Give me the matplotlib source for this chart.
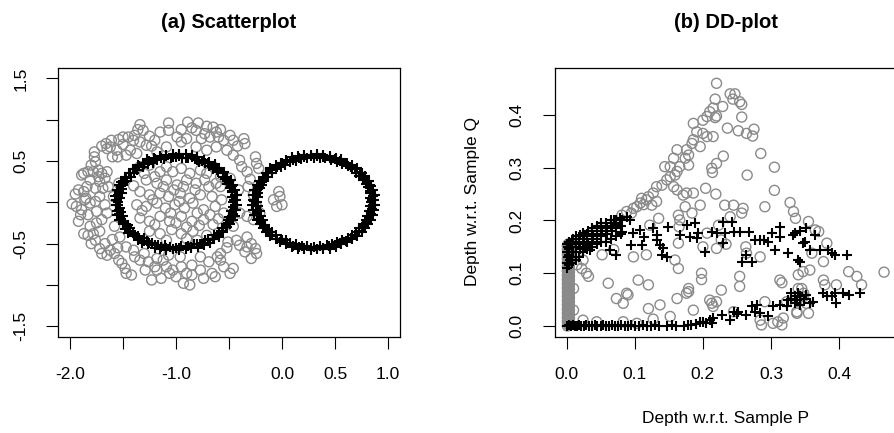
import numpy as np
import matplotlib.pyplot as plt

plt.rcParams['font.family'] = ['Liberation Sans', 'DejaVu Sans']

GREY = '#8a8a8a'

# ---- (a) scatterplot: sample P (grey circles) ----
scatter_p = [
    (-1.34, 0.94), (-1.36, 0.88), (-1.31, 0.87), (-1.07, 0.96), (-1.07, 0.87), (-0.95, 0.88),
    (-0.89, 0.97), (-0.85, 0.90), (-0.79, 0.96), (-0.81, 0.87), (-0.71, 0.92), (-0.73, 0.83),
    (-0.65, 0.91), (-0.62, 0.85), (-0.58, 0.88), (-0.60, 0.79), (-0.68, 0.79), (-0.76, 0.77),
    (-0.49, 0.81), (-0.46, 0.75), (-0.36, 0.77), (-0.35, 0.71), (-0.90, 0.77), (-0.99, 0.79),
    (-0.95, 0.73), (-1.45, 0.79), (-1.50, 0.79), (-1.54, 0.76), (-1.40, 0.75), (-1.39, 0.81),
    (-1.61, 0.75), (-1.66, 0.71), (-1.70, 0.68), (-1.62, 0.67), (-1.65, 0.65), (-1.20, 0.75),
    (-1.28, 0.69), (-1.34, 0.73), (-1.23, 0.68),
    (-1.77, 0.61), (-1.77, 0.55), (-1.76, 0.49), (-1.56, 0.63), (-1.55, 0.55), (-1.43, 0.63),
    (-1.37, 0.59), (-1.47, 0.57), (-1.87, 0.35), (-1.89, 0.33), (-1.83, 0.37), (-1.78, 0.37),
    (-1.73, 0.39), (-1.70, 0.35), (-1.65, 0.37), (-1.73, 0.31), (-1.81, 0.27), (-1.72, 0.25),
    (-1.67, 0.29), (-1.84, 0.19), (-1.92, 0.15), (-1.87, 0.13), (-1.76, 0.17), (-1.69, 0.17),
    (-1.64, 0.19),
    (-1.98, -0.02), (-1.94, -0.05), (-1.89, -0.09), (-1.92, -0.23), (-1.86, 0.03), (-1.81, -0.01),
    (-1.76, 0.01), (-1.72, 0.07), (-1.75, -0.11), (-1.83, -0.15), (-1.70, -0.21), (-1.75, -0.25),
    (-1.65, -0.13), (-1.67, -0.03),
    (-1.87, -0.38), (-1.83, -0.40), (-1.78, -0.38), (-1.81, -0.29), (-1.72, -0.35), (-1.76, -0.46),
    (-1.72, -0.56), (-1.70, -0.62), (-1.65, -0.64), (-1.62, -0.58), (-1.67, -0.50), (-1.58, -0.62),
    (-1.54, -0.70), (-1.51, -0.74), (-1.48, -0.80), (-1.42, -0.88), (-1.47, -0.86), (-1.40, -0.58),
    (-1.39, -0.66), (-1.34, -0.70), (-1.29, -0.82),
    (-1.23, -0.94), (-1.14, -0.92), (-1.18, -0.82), (-1.09, -0.78), (-1.06, -0.86), (-1.00, -0.90),
    (-1.03, -0.82), (-0.93, -0.98), (-0.87, -1.00), (-0.90, -0.86), (-0.95, -0.78), (-0.85, -0.76),
    (-0.77, -0.82), (-0.74, -0.92), (-0.66, -0.86), (-0.63, -0.90), (-0.69, -0.72), (-0.61, -0.66),
    (-0.58, -0.70), (-0.49, -0.86), (-0.46, -0.80), (-1.18, -0.68), (-1.12, -0.70), (-1.07, -0.64),
    (-0.96, -0.66), (-0.77, -0.66), (-1.26, -0.72),
    (-0.43, -0.46), (-0.33, -0.42), (-0.29, -0.50), (-0.25, -0.56), (-0.24, -0.62), (-0.29, -0.68),
    (-0.33, -0.54), (-0.40, -0.52), (-0.51, -0.48), (-0.58, -0.62),
    (-0.32, 0.19), (-0.27, 0.09), (-0.24, -0.05), (-0.21, -0.13), (-0.27, -0.21), (-0.33, -0.17),
    (-0.38, 0.43), (-0.33, 0.37), (-0.25, 0.55), (-0.24, 0.47), (-0.22, 0.41), (-0.46, 0.57),
    (-0.40, 0.51),
    (-0.03, 0.13), (-0.02, 0.07), (-0.08, 0.03), (0.00, -0.03), (-0.05, -0.05),
    (-1.34, 0.43), (-1.25, 0.45), (-1.15, 0.37), (-1.09, 0.43), (-1.03, 0.37), (-0.95, 0.41),
    (-0.87, 0.35), (-0.77, 0.39), (-0.71, 0.35), (-0.65, 0.43), (-0.58, 0.31), (-1.28, 0.27),
    (-1.18, 0.23), (-1.09, 0.27), (-0.99, 0.21), (-0.90, 0.27), (-0.81, 0.23), (-0.69, 0.19),
    (-0.58, 0.19), (-1.34, 0.13), (-1.25, 0.09), (-1.15, 0.11), (-1.07, 0.07), (-0.96, 0.11),
    (-0.87, 0.05), (-0.77, 0.09), (-0.66, 0.07), (-0.57, 0.03), (-1.37, -0.03), (-1.28, -0.05),
    (-1.18, -0.01), (-1.10, -0.07), (-1.01, -0.03), (-0.92, -0.07), (-0.84, -0.01), (-0.74, -0.09),
    (-0.63, -0.05), (-0.55, -0.13), (-1.34, -0.19), (-1.25, -0.23), (-1.15, -0.17), (-1.06, -0.23),
    (-0.95, -0.17), (-0.85, -0.23), (-0.74, -0.21), (-0.65, -0.27), (-1.25, -0.35), (-1.15, -0.38),
    (-1.04, -0.33), (-0.95, -0.38), (-0.84, -0.35), (-0.71, -0.40), (-0.90, -0.44), (-1.09, -0.46),
    (-0.80, -0.46),
    (-1.18, 0.61), (-1.09, 0.67), (-0.81, 0.67), (-0.71, 0.63), (-0.62, 0.67), (-0.52, 0.63),
    (-1.59, 0.07), (-1.54, 0.23), (-1.58, -0.29), (-1.53, -0.42), (-1.47, -0.54), (-0.46, -0.29),
    (-0.40, -0.13), (-0.41, 0.15), (-0.49, 0.29),
    (-1.30, 0.35), (-1.20, 0.31), (-1.12, 0.19), (-1.02, 0.15), (-0.93, 0.19), (-0.82, 0.15),
    (-0.73, 0.27), (-0.62, 0.23), (-1.22, 0.03), (-1.05, -0.13), (-0.97, 0.01), (-0.80, -0.13),
    (-0.68, -0.15), (-1.20, -0.27), (-1.00, -0.25), (-0.90, -0.30), (-0.78, -0.28), (-1.32, -0.10),
    (-1.40, 0.20), (-0.60, -0.20), (-1.80, 0.45), (-1.85, 0.05), (-1.60, -0.45), (-1.55, -0.55),
    (-1.30, -0.62), (-1.20, -0.78), (-0.85, -0.88), (-0.55, -0.78), (-0.52, -0.55), (-0.35, -0.60),
    (-0.55, 0.75), (-0.42, 0.68), (-1.15, 0.85), (-1.25, 0.80), (-1.50, 0.70), (-1.60, 0.55),
    (-1.95, 0.10), (-1.90, -0.15), (-1.80, -0.50), (-0.30, 0.28),
]

# ---- (a) scatterplot: sample Q, two rings (black pluses) ----
ring1_x = [
    -0.46, -0.47, -0.47, -0.49, -0.52, -0.54, -0.56, -0.60, -0.65, -0.69, -0.73, -0.78, -0.82, -0.89, -0.94,
    -1.00, -1.05, -1.11, -1.18, -1.22, -1.26, -1.31, -1.37, -1.40, -1.42, -1.46, -1.50, -1.51, -1.51, -1.53,
    -1.55, -1.53, -1.52, -1.50, -1.49, -1.45, -1.43, -1.41, -1.36, -1.30, -1.27, -1.23, -1.17, -1.10, -1.06,
    -1.00, -0.95, -0.89, -0.83, -0.77, -0.73, -0.70, -0.64, -0.59, -0.57, -0.53, -0.51, -0.50, -0.48, -0.46,
    -0.43, -0.42, -0.44, -0.46, -0.48, -0.52, -0.55, -0.59, -0.63, -0.69, -0.74, -0.80, -0.85, -0.91, -0.97,
    -1.03, -1.09, -1.15, -1.21, -1.27, -1.31, -1.36, -1.41, -1.44, -1.48, -1.52, -1.54, -1.56, -1.58, -1.57,
    -1.57, -1.56, -1.56, -1.54, -1.50, -1.48, -1.45, -1.40, -1.36, -1.32, -1.26, -1.20, -1.15, -1.09, -1.03,
    -0.97, -0.91, -0.86, -0.79, -0.74, -0.68, -0.64, -0.59, -0.56, -0.52, -0.49, -0.46, -0.44, -0.43, -0.42,
    -0.45, -0.44, -0.47, -0.47, -0.50, -0.54, -0.56, -0.61, -0.65, -0.70, -0.75, -0.80, -0.85, -0.91, -0.97,
    -1.03, -1.09, -1.14, -1.20, -1.25, -1.30, -1.35, -1.39, -1.43, -1.47, -1.49, -1.52, -1.54, -1.55, -1.56,
    -1.55, -1.54, -1.54, -1.52, -1.50, -1.46, -1.43, -1.39, -1.35, -1.30, -1.25, -1.20, -1.14, -1.09, -1.03,
    -0.97, -0.91, -0.86, -0.80, -0.75, -0.70, -0.65, -0.61, -0.57, -0.53, -0.51, -0.48, -0.46, -0.45, -0.44,
]
ring1_y = [
    0.00, 0.06, 0.12, 0.17, 0.22, 0.28, 0.31, 0.37, 0.40, 0.44, 0.47, 0.49, 0.52, 0.53, 0.54,
    0.55, 0.54, 0.52, 0.51, 0.48, 0.46, 0.43, 0.39, 0.36, 0.31, 0.26, 0.22, 0.16, 0.11, 0.05,
    0.00, -0.07, -0.12, -0.17, -0.23, -0.28, -0.31, -0.37, -0.41, -0.43, -0.47, -0.49, -0.52, -0.52, -0.54,
    -0.55, -0.53, -0.53, -0.51, -0.50, -0.46, -0.44, -0.40, -0.37, -0.31, -0.28, -0.22, -0.18, -0.11, -0.06,
    0.03, 0.09, 0.15, 0.21, 0.27, 0.31, 0.37, 0.41, 0.46, 0.49, 0.51, 0.55, 0.57, 0.58, 0.58,
    0.59, 0.57, 0.56, 0.54, 0.52, 0.48, 0.45, 0.40, 0.36, 0.31, 0.25, 0.21, 0.15, 0.08, 0.03,
    -0.03, -0.10, -0.15, -0.22, -0.26, -0.32, -0.37, -0.41, -0.46, -0.49, -0.51, -0.55, -0.57, -0.58, -0.57,
    -0.58, -0.57, -0.55, -0.54, -0.52, -0.49, -0.45, -0.42, -0.36, -0.30, -0.26, -0.21, -0.16, -0.09, -0.03,
    0.03, 0.09, 0.14, 0.20, 0.25, 0.30, 0.36, 0.39, 0.43, 0.47, 0.50, 0.51, 0.55, 0.54, 0.56,
    0.55, 0.56, 0.53, 0.52, 0.50, 0.46, 0.44, 0.40, 0.35, 0.30, 0.25, 0.20, 0.14, 0.09, 0.03,
    -0.03, -0.09, -0.14, -0.20, -0.25, -0.30, -0.35, -0.39, -0.43, -0.47, -0.49, -0.52, -0.54, -0.55, -0.56,
    -0.55, -0.54, -0.54, -0.51, -0.50, -0.46, -0.44, -0.39, -0.35, -0.30, -0.25, -0.20, -0.14, -0.09, -0.03,
]
ring2_x = [
    0.84, 0.83, 0.83, 0.81, 0.79, 0.76, 0.73, 0.70, 0.66, 0.62, 0.57, 0.52, 0.46, 0.41, 0.36,
    0.30, 0.24, 0.18, 0.13, 0.08, 0.03, -0.01, -0.06, -0.09, -0.13, -0.17, -0.19, -0.21, -0.23, -0.23,
    -0.24, -0.23, -0.21, -0.20, -0.18, -0.16, -0.13, -0.09, -0.06, -0.01, 0.04, 0.08, 0.13, 0.19, 0.24,
    0.30, 0.36, 0.42, 0.47, 0.52, 0.57, 0.62, 0.66, 0.70, 0.73, 0.76, 0.79, 0.80, 0.82, 0.83,
    0.87, 0.88, 0.86, 0.84, 0.82, 0.78, 0.75, 0.71, 0.66, 0.61, 0.56, 0.51, 0.45, 0.39, 0.33,
    0.27, 0.21, 0.15, 0.09, 0.04, -0.01, -0.06, -0.11, -0.15, -0.18, -0.22, -0.24, -0.26, -0.27, -0.27,
    -0.28, -0.27, -0.26, -0.24, -0.21, -0.18, -0.15, -0.11, -0.06, -0.02, 0.04, 0.09, 0.15, 0.21, 0.27,
    0.33, 0.39, 0.45, 0.51, 0.56, 0.61, 0.66, 0.71, 0.75, 0.78, 0.81, 0.84, 0.86, 0.87, 0.88,
    0.85, 0.86, 0.83, 0.83, 0.80, 0.76, 0.74, 0.69, 0.65, 0.60, 0.55, 0.50, 0.45, 0.39, 0.33,
    0.27, 0.21, 0.16, 0.10, 0.05, 0.00, -0.05, -0.09, -0.13, -0.17, -0.19, -0.22, -0.24, -0.25, -0.26,
    -0.25, -0.24, -0.24, -0.22, -0.20, -0.16, -0.13, -0.09, -0.05, 0.00, 0.05, 0.10, 0.16, 0.21, 0.27,
    0.33, 0.39, 0.44, 0.50, 0.55, 0.60, 0.65, 0.69, 0.73, 0.77, 0.79, 0.82, 0.84, 0.85, 0.86,
]
ring2_y = [
    0.00, 0.05, 0.11, 0.18, 0.22, 0.27, 0.32, 0.36, 0.40, 0.44, 0.46, 0.49, 0.51, 0.53, 0.54,
    0.54, 0.53, 0.52, 0.50, 0.49, 0.45, 0.43, 0.40, 0.35, 0.31, 0.27, 0.21, 0.17, 0.11, 0.06,
    0.00, -0.05, -0.11, -0.17, -0.22, -0.27, -0.32, -0.36, -0.40, -0.44, -0.46, -0.49, -0.51, -0.53, -0.53,
    -0.54, -0.53, -0.52, -0.51, -0.48, -0.46, -0.43, -0.39, -0.36, -0.31, -0.26, -0.22, -0.16, -0.11, -0.05,
    0.03, 0.09, 0.15, 0.20, 0.26, 0.32, 0.36, 0.41, 0.45, 0.48, 0.52, 0.54, 0.56, 0.57, 0.58,
    0.57, 0.57, 0.56, 0.55, 0.51, 0.48, 0.45, 0.41, 0.36, 0.31, 0.26, 0.21, 0.15, 0.09, 0.03,
    -0.03, -0.09, -0.15, -0.21, -0.26, -0.31, -0.36, -0.41, -0.45, -0.48, -0.51, -0.54, -0.56, -0.57, -0.58,
    -0.57, -0.57, -0.56, -0.54, -0.51, -0.48, -0.45, -0.41, -0.36, -0.31, -0.26, -0.21, -0.15, -0.09, -0.03,
    0.03, 0.08, 0.14, 0.21, 0.25, 0.29, 0.36, 0.40, 0.43, 0.46, 0.50, 0.52, 0.54, 0.55, 0.56,
    0.56, 0.55, 0.54, 0.51, 0.50, 0.47, 0.43, 0.39, 0.36, 0.30, 0.24, 0.20, 0.15, 0.09, 0.02,
    -0.04, -0.09, -0.13, -0.20, -0.26, -0.30, -0.34, -0.39, -0.44, -0.46, -0.49, -0.53, -0.54, -0.55, -0.55,
    -0.56, -0.55, -0.53, -0.52, -0.49, -0.47, -0.43, -0.40, -0.35, -0.29, -0.25, -0.19, -0.14, -0.08, -0.03,
]

# ---- (b) DD-plot: depths of sample P points (grey circles) ----
dd_p = [
    (0.220, 0.460), (0.218, 0.430), (0.240, 0.440), (0.247, 0.440), (0.244, 0.430), (0.254, 0.425),
    (0.257, 0.420), (0.229, 0.416), (0.215, 0.413), (0.210, 0.406), (0.220, 0.398), (0.206, 0.397),
    (0.200, 0.390), (0.186, 0.384), (0.236, 0.375), (0.252, 0.370), (0.264, 0.365), (0.275, 0.373),
    (0.273, 0.360), (0.257, 0.396), (0.218, 0.395), (0.191, 0.368), (0.200, 0.365), (0.206, 0.359),
    (0.215, 0.359), (0.186, 0.353), (0.184, 0.346), (0.196, 0.340), (0.176, 0.334), (0.179, 0.324),
    (0.162, 0.334), (0.174, 0.318), (0.230, 0.322), (0.220, 0.308), (0.213, 0.299), (0.214, 0.291),
    (0.157, 0.318), (0.179, 0.305), (0.166, 0.302), (0.144, 0.302), (0.152, 0.302), (0.162, 0.293),
    (0.159, 0.286), (0.152, 0.283), (0.147, 0.277), (0.157, 0.264), (0.162, 0.258), (0.171, 0.248),
    (0.176, 0.252), (0.186, 0.252), (0.174, 0.226), (0.184, 0.214), (0.196, 0.229), (0.140, 0.267),
    (0.132, 0.264), (0.127, 0.252), (0.120, 0.245), (0.117, 0.239), (0.110, 0.242), (0.108, 0.233),
    (0.103, 0.226), (0.098, 0.223), (0.113, 0.230), (0.095, 0.214), (0.088, 0.217), (0.081, 0.210),
    (0.132, 0.236), (0.125, 0.229),
    (0.285, 0.327), (0.305, 0.301), (0.265, 0.286), (0.305, 0.257), (0.291, 0.226), (0.328, 0.234),
    (0.333, 0.217), (0.336, 0.204), (0.355, 0.198), (0.365, 0.182), (0.370, 0.179), (0.382, 0.157),
    (0.377, 0.122), (0.414, 0.103), (0.426, 0.094), (0.433, 0.078), (0.466, 0.102), (0.360, 0.138),
    (0.340, 0.097), (0.345, 0.071), (0.348, 0.056), (0.377, 0.087), (0.352, 0.043), (0.338, 0.027),
    (0.355, 0.024),
    (0.204, 0.261), (0.219, 0.250), (0.232, 0.229), (0.245, 0.229), (0.259, 0.223), (0.257, 0.214),
    (0.240, 0.207), (0.223, 0.191), (0.206, 0.176), (0.200, 0.150), (0.220, 0.147), (0.227, 0.163),
    (0.234, 0.155), (0.263, 0.150), (0.264, 0.138), (0.284, 0.131), (0.164, 0.210), (0.166, 0.201),
    (0.165, 0.188), (0.164, 0.157), (0.159, 0.125), (0.164, 0.109), (0.135, 0.204), (0.122, 0.191),
    (0.117, 0.135), (0.098, 0.131), (0.052, 0.135), (0.061, 0.081), (0.105, 0.087), (0.120, 0.078),
    (0.073, 0.052), (0.083, 0.043), (0.088, 0.062), (0.090, 0.059), (0.120, 0.033), (0.137, 0.040),
    (0.152, 0.018), (0.162, 0.052), (0.176, 0.062), (0.179, 0.065), (0.179, 0.071), (0.186, 0.030),
    (0.198, 0.100), (0.198, 0.088), (0.227, 0.068), (0.210, 0.049), (0.213, 0.043), (0.220, 0.046),
    (0.215, 0.037), (0.254, 0.094), (0.254, 0.075), (0.245, 0.027), (0.284, 0.011), (0.286, 0.002),
    (0.291, 0.046), (0.303, 0.005), (0.310, 0.008), (0.316, 0.002), (0.318, 0.015), (0.313, 0.087),
    (0.316, 0.082), (0.340, 0.071), (0.348, 0.062), (0.379, 0.078), (0.396, 0.078), (0.323, 0.046),
    (0.338, 0.024), (0.357, 0.106), (0.347, 0.103),
    (0.069, 0.145), (0.010, 0.071), (0.010, 0.030), (0.024, 0.011), (0.044, 0.008), (0.083, 0.008),
    (0.103, 0.005), (0.127, 0.013), (0.015, 0.116), (0.022, 0.109), (0.032, 0.094), (0.024, 0.125),
    (0.029, 0.100),
]

# points of sample P with zero depth w.r.t. P: a tight stack on the left edge
zero_p_x = [0.001, 0.003, 0.002, 0.004, 0.001, 0.003, 0.002, 0.004] * 10
zero_p_y = [
    0.000, 0.002, 0.004, 0.006, 0.008, 0.010, 0.012, 0.014, 0.016, 0.018,
    0.020, 0.022, 0.024, 0.026, 0.028, 0.030, 0.032, 0.034, 0.036, 0.038,
    0.040, 0.042, 0.044, 0.046, 0.048, 0.050, 0.052, 0.054, 0.056, 0.058,
    0.060, 0.062, 0.064, 0.066, 0.068, 0.070, 0.072, 0.074, 0.076, 0.078,
    0.080, 0.082, 0.084, 0.086, 0.088, 0.090, 0.092, 0.094, 0.096, 0.098,
    0.100, 0.102, 0.104, 0.106, 0.108, 0.110, 0.112, 0.114, 0.116, 0.118,
    0.120, 0.122, 0.124, 0.126, 0.128, 0.130, 0.132, 0.134, 0.136, 0.138,
    0.140, 0.142, 0.144, 0.146, 0.148, 0.150, 0.152, 0.154, 0.155, 0.156,
]

# ---- (b) DD-plot: depths of sample Q points (black pluses) ----
dd_q = [
    # bottom row (depth w.r.t. Q close to zero)
    (0.000, 0.000), (0.003, 0.001), (0.006, 0.000), (0.009, 0.001), (0.012, 0.000), (0.015, 0.000),
    (0.018, 0.001), (0.021, 0.000), (0.025, 0.000), (0.029, 0.001), (0.033, 0.000), (0.037, 0.000),
    (0.041, 0.001), (0.045, 0.000), (0.050, 0.000), (0.054, 0.001), (0.058, 0.000), (0.062, 0.000),
    (0.067, 0.001), (0.071, 0.000), (0.076, 0.000), (0.080, 0.001), (0.085, 0.000), (0.090, 0.000),
    (0.095, 0.001), (0.100, 0.000), (0.106, 0.000), (0.112, 0.001), (0.118, 0.000), (0.124, 0.000),
    (0.130, 0.001), (0.136, 0.000), (0.147, 0.000), (0.155, 0.001), (0.160, 0.000), (0.172, 0.000),
    (0.178, 0.002), (0.183, 0.001), (0.190, 0.004), (0.196, 0.008), (0.200, 0.008), (0.205, 0.006),
    (0.210, 0.011), (0.215, 0.015), (0.213, 0.005), (0.228, 0.021), (0.240, 0.011), (0.245, 0.027),
    (0.250, 0.023), (0.252, 0.027), (0.264, 0.021), (0.272, 0.037), (0.279, 0.040), (0.277, 0.027),
    (0.284, 0.024), (0.296, 0.018), (0.303, 0.037), (0.313, 0.040), (0.323, 0.037), (0.325, 0.049),
    (0.330, 0.052), (0.335, 0.056), (0.338, 0.049), (0.343, 0.056), (0.348, 0.052), (0.352, 0.059),
    (0.357, 0.043), (0.362, 0.046), (0.377, 0.062), (0.382, 0.056), (0.389, 0.056), (0.394, 0.062),
    (0.396, 0.043), (0.406, 0.062), (0.414, 0.059), (0.430, 0.062), (0.335, 0.043), (0.343, 0.040),
    (0.330, 0.062), (0.340, 0.062),
    # dense cluster next to the origin
    (0.001, 0.110), (0.001, 0.120), (0.002, 0.130), (0.001, 0.140), (0.002, 0.150), (0.001, 0.155),
    (0.004, 0.115), (0.005, 0.125), (0.004, 0.135), (0.004, 0.145), (0.005, 0.155), (0.004, 0.160),
    (0.008, 0.120), (0.008, 0.130), (0.009, 0.140), (0.008, 0.150), (0.008, 0.160), (0.009, 0.165),
    (0.013, 0.125), (0.013, 0.140), (0.014, 0.150), (0.013, 0.160), (0.013, 0.170),
    (0.018, 0.130), (0.019, 0.145), (0.018, 0.155), (0.018, 0.165), (0.019, 0.172),
    (0.024, 0.140), (0.024, 0.150), (0.025, 0.160), (0.024, 0.170), (0.024, 0.176),
    (0.030, 0.145), (0.031, 0.155), (0.030, 0.165), (0.030, 0.175), (0.031, 0.180),
    (0.037, 0.150), (0.037, 0.160), (0.038, 0.170), (0.037, 0.180), (0.037, 0.185),
    (0.044, 0.155), (0.045, 0.165), (0.044, 0.175), (0.044, 0.185), (0.045, 0.190),
    (0.051, 0.160), (0.051, 0.170), (0.052, 0.180), (0.051, 0.190), (0.051, 0.195),
    (0.058, 0.160), (0.059, 0.175), (0.058, 0.185), (0.058, 0.195),
    (0.065, 0.165), (0.066, 0.180), (0.065, 0.190), (0.065, 0.200),
    (0.072, 0.170), (0.073, 0.185), (0.072, 0.195), (0.072, 0.200),
    (0.080, 0.175), (0.080, 0.190), (0.081, 0.200),
    (0.027, 0.150), (0.034, 0.144), (0.064, 0.144), (0.073, 0.135),
    # middle band
    (0.069, 0.201), (0.078, 0.204), (0.088, 0.207), (0.093, 0.201), (0.073, 0.191), (0.059, 0.188),
    (0.081, 0.179), (0.098, 0.176), (0.108, 0.182), (0.113, 0.169), (0.095, 0.154), (0.110, 0.154),
    (0.127, 0.185), (0.132, 0.172), (0.132, 0.163), (0.137, 0.154), (0.142, 0.147), (0.140, 0.135),
    (0.147, 0.131), (0.149, 0.188), (0.166, 0.172), (0.176, 0.191), (0.188, 0.195), (0.191, 0.166),
    (0.193, 0.176), (0.181, 0.169), (0.203, 0.141), (0.213, 0.179), (0.220, 0.176), (0.230, 0.198),
    (0.242, 0.198), (0.232, 0.176), (0.230, 0.157), (0.245, 0.179), (0.254, 0.179), (0.267, 0.179),
    (0.257, 0.122), (0.264, 0.135), (0.272, 0.122), (0.277, 0.163), (0.284, 0.163), (0.289, 0.163),
    (0.296, 0.160), (0.301, 0.176), (0.306, 0.144), (0.313, 0.188), (0.313, 0.169), (0.325, 0.138),
    (0.333, 0.172), (0.335, 0.176), (0.340, 0.125), (0.343, 0.180), (0.350, 0.160), (0.352, 0.185),
    (0.357, 0.144), (0.365, 0.172), (0.372, 0.144), (0.384, 0.144), (0.389, 0.138), (0.394, 0.135),
    (0.411, 0.135), (0.347, 0.158), (0.343, 0.122),
]

p_x, p_y = np.array(scatter_p).T
q_x = ring1_x + ring2_x
q_y = ring1_y + ring2_y
ddp_x, ddp_y = np.array(dd_p).T
ddq_x, ddq_y = np.array(dd_q).T

fig = plt.figure(figsize=(8.94, 4.33), dpi=100)
ax1 = fig.add_axes([58 / 894, 1 - 337 / 433, 342 / 894, 269 / 433])
ax2 = fig.add_axes([554.7 / 894, 1 - 337 / 433, 342.3 / 894, 269 / 433])

circ = dict(s=52, facecolors='none', edgecolors=GREY, linewidths=1.0)
plus = dict(s=58, marker='+', c='black', linewidths=1.5)

ax1.scatter(p_x, p_y, **circ)
ax1.scatter(q_x, q_y, **plus)
ax1.set_xlim(-2.113, 1.113)
ax1.set_ylim(-1.63, 1.625)
ax1.set_xticks([-2.0, -1.5, -1.0, -0.5, 0.0, 0.5, 1.0])
ax1.set_xticklabels(['-2.0', '', '-1.0', '', '0.0', '0.5', '1.0'])
ax1.set_yticks([-1.5, -1.0, -0.5, 0.0, 0.5, 1.0, 1.5])
ax1.set_yticklabels(['-1.5', '', '-0.5', '', '0.5', '', '1.5'])

ax2.scatter(ddp_x, ddp_y, **circ)
ax2.scatter(zero_p_x, zero_p_y, **circ)
ax2.scatter(ddq_x, ddq_y, **plus)
ax2.set_xlim(-0.0176, 0.485)
ax2.set_ylim(-0.0209, 0.489)
ax2.set_xticks([0.0, 0.1, 0.2, 0.3, 0.4])
ax2.set_xticklabels(['0.0', '0.1', '0.2', '0.3', '0.4'])
ax2.set_yticks([0.0, 0.1, 0.2, 0.3, 0.4])
ax2.set_yticklabels(['0.0', '0.1', '0.2', '0.3', '0.4'])

for ax in (ax1, ax2):
    ax.tick_params(direction='out', length=8.5, width=0.8, labelsize=12.5, pad=13)
    for lab in ax.get_yticklabels():
        lab.set_rotation(90)
        lab.set_va('center')
    for sp in ax.spines.values():
        sp.set_linewidth(0.9)

fig.text(229 / 894, 1 - 22 / 433, '(a) Scatterplot', fontsize=14.5, fontweight='bold',
         ha='center', va='center')
fig.text(726 / 894, 1 - 22 / 433, '(b) DD-plot', fontsize=14.5, fontweight='bold',
         ha='center', va='center')
fig.text(726 / 894, 1 - 418 / 433, 'Depth w.r.t. Sample P', fontsize=12.5, ha='center', va='center')
fig.text(473 / 894, 1 - 202 / 433, 'Depth w.r.t. Sample Q', fontsize=12.5, ha='center', va='center',
         rotation=90)

fig.savefig('out.png', dpi=100)
